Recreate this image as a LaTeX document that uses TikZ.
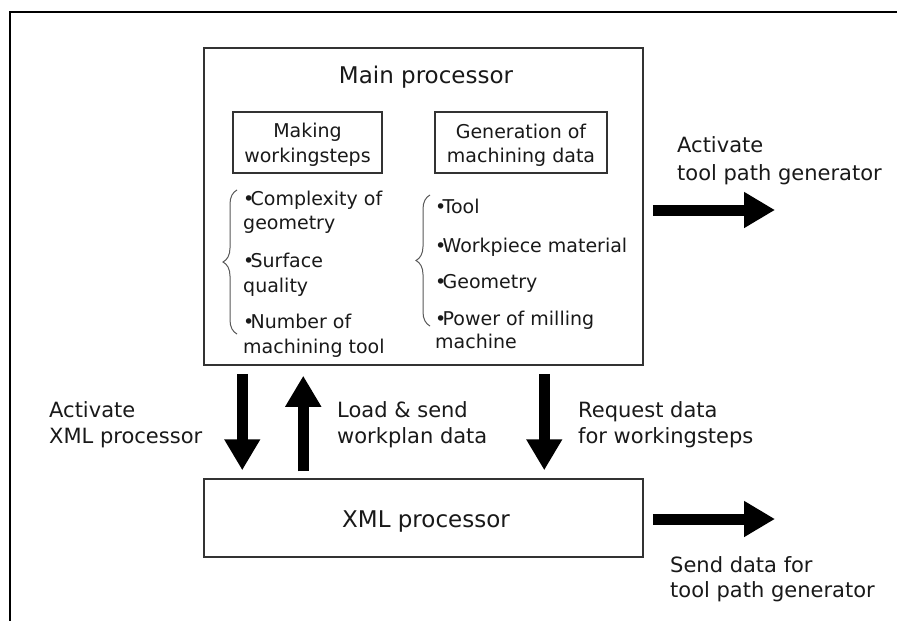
\documentclass[tikz,border=0pt]{standalone}
\usepackage{fontspec}
\setmainfont{DejaVu Sans}
\usetikzlibrary{arrows.meta,decorations.pathreplacing}
\newcommand\bulmark{•\kern-0.2em}
\begin{document}
\begin{tikzpicture}[x=1pt,y=-1pt,
  box/.style={draw=black!80,line width=1.5pt,inner sep=0pt,fill=white},
  lbl/.style={font=\fontsize{21}{27}\selectfont,anchor=base west,inner sep=0pt,text=black!90},
  body/.style={font=\fontsize{19}{25}\selectfont,anchor=base west,inner sep=0pt,text=black!90},
  ctr/.style={anchor=base,inner sep=0pt,text=black!90},
  bigarrow/.style={line width=11pt,-{Triangle[width=34pt,length=31pt]}},
  brc/.style={draw=black!65,line width=1pt,decorate,decoration={brace,amplitude=14pt}}
]
\useasboundingbox (0,0) rectangle (897,621);
\draw[line width=2pt] (897,12) -- (10,12) -- (10,621);

% boxes
\node[box,minimum width=439pt,minimum height=317pt] (main) at (423.5,206.5) {};
\node[box,minimum width=439pt,minimum height=78pt] (xml) at (423.5,518) {};
\node[box,minimum width=149pt,minimum height=61pt] (mk) at (307.5,142.5) {};
\node[box,minimum width=172pt,minimum height=61pt] (gen) at (521,142.5) {};

% titles
\node[ctr,font=\fontsize{23}{28}\selectfont] (mainT) at (426,83) {Main processor};
\node[ctr,font=\fontsize{23}{28}\selectfont] (xmlT) at (426,527) {XML processor};
\node[ctr,font=\fontsize{19}{25}\selectfont] (mk1) at (307.5,137) {Making};
\node[ctr,font=\fontsize{19}{25}\selectfont] (mk2) at (307.5,162) {workingsteps};
\node[ctr,font=\fontsize{19}{25}\selectfont] (gen1) at (521,138) {Generation of};
\node[ctr,font=\fontsize{19}{25}\selectfont] (gen2) at (521,162) {machining data};

% left list
\node[body] (l1a) at (243,205) {\bulmark Complexity of};
\node[body] (l1b) at (243,229) {geometry};
\node[body] (l2a) at (243,267) {\bulmark Surface};
\node[body] (l2b) at (243,292) {quality};
\node[body] (l3a) at (243,328) {\bulmark Number of};
\node[body] (l3b) at (243,353) {machining tool};
\draw[brc] (237,334) -- (237,190);

% right list
\node[body] (r1) at (435,213) {\bulmark Tool};
\node[body] (r2) at (435,252) {\bulmark Workpiece material};
\node[body] (r3) at (435,288) {\bulmark Geometry};
\node[body] (r4a) at (435,325) {\bulmark Power of milling};
\node[body] (r4b) at (435,348) {machine};
\draw[brc] (430,326) -- (430,195);

% vertical arrows
\draw[bigarrow] ([xshift=39pt,yshift=-8pt]main.south west) -- ([xshift=39pt,yshift=8pt]xml.north west);
\draw[bigarrow] ([xshift=100pt,yshift=7pt]xml.north west) -- ([xshift=100pt,yshift=-10pt]main.south west);
\draw[bigarrow] ([xshift=341pt,yshift=-8pt]main.south west) -- ([xshift=341pt,yshift=8pt]xml.north west);

% horizontal arrows
\coordinate (out1) at (775,210);
\coordinate (out2) at (775,519);
\draw[bigarrow] ([xshift=9pt,yshift=-3.5pt]main.east) -- (out1);
\draw[bigarrow] ([xshift=9pt,yshift=-1pt]xml.east) -- (out2);

% labels
\node[lbl] (a1) at (49,417) {Activate};
\node[lbl] (a2) at (49,443) {XML processor};
\node[lbl] (b1) at (337,417) {Load \& send};
\node[lbl] (b2) at (337,443) {workplan data};
\node[lbl] (c1) at (578,417) {Request data};
\node[lbl] (c2) at (578,443) {for workingsteps};
\node[lbl] (d1) at (677,152) {Activate};
\node[lbl] (d2) at (677,180) {tool path generator};
\node[lbl] (e1) at (670,572) {Send data for};
\node[lbl] (e2) at (670,597) {tool path generator};
\end{tikzpicture}
\end{document}
